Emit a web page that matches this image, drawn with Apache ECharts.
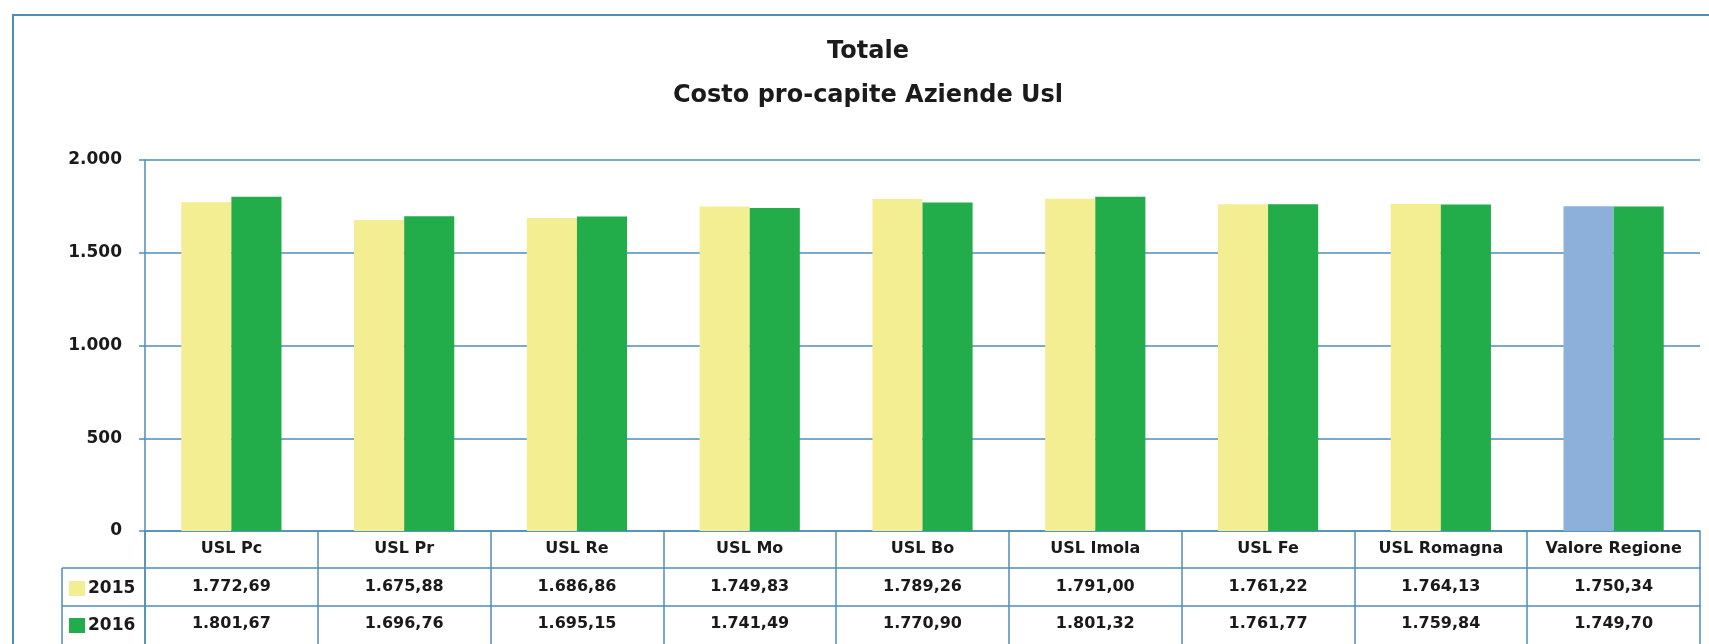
<!DOCTYPE html>
<html>
<head>
<meta charset="utf-8">
<script src="https://cdn.jsdelivr.net/npm/echarts@6/dist/echarts.min.js"></script>
<style>
html,body{margin:0;padding:0;background:#fff;}
#chart{width:1709px;height:644px;}
</style>
</head>
<body>
<div id="chart"></div>
<script>
const categories = ['USL Pc','USL Pr','USL Re','USL Mo','USL Bo','USL Imola','USL Fe','USL Romagna','Valore Regione'];
const values2015 = [1772.69,1675.88,1686.86,1749.83,1789.26,1791.00,1761.22,1764.13,1750.34];
const values2016 = [1801.67,1696.76,1695.15,1741.49,1770.90,1801.32,1761.77,1759.84,1749.70];
const seriesNames = ['2015','2016'];
const yTicks = [0,500,1000,1500,2000];
const titleLines = ['Totale','Costo pro-capite Aziende Usl'];

const FONT = 'DejaVu Sans';
const LINE = '#4f8db8';
const YELLOW = '#f3ee92', GREEN = '#22ad4a', BLUE = '#8db0db';

function fmt(v, dec){
  const s = v.toFixed(dec);
  const parts = s.split('.');
  const ip = parts[0].replace(/\B(?=(\d{3})+(?!\d))/g,'.');
  return parts.length>1 ? ip+','+parts[1] : ip;
}

// layout
const W=1709,H=644;
const gridLeft=145, gridRight=1700, gridTop=160, zeroY=531;
const rowY=[531,568,606,646];
const legendX=62;

const chart = echarts.init(document.getElementById('chart'),null,{renderer:'canvas'});
const lbl = {fontFamily:FONT,fontWeight:'bold',fontSize:16,color:'#1a1a1a'};

const option = {
  backgroundColor:'#fff',
  animation:false,
  title:[
    {text:titleLines[0],left:863,top:35,textAlign:'center',textStyle:{fontFamily:FONT,fontWeight:'bold',fontSize:24,color:'#1b1b1b'}},
    {text:titleLines[1],left:863,top:79,textAlign:'center',textStyle:{fontFamily:FONT,fontWeight:'bold',fontSize:24,color:'#1b1b1b'}}
  ],
  legend:{
    orient:'vertical',left:legendX+7,top:580,itemWidth:16,itemHeight:15,itemGap:20,
    icon:'rect',data:seriesNames,
    textStyle:Object.assign({},lbl,{fontSize:17,padding:[0,0,0,-2]}),padding:0
  },
  grid:{left:gridLeft,right:W-gridRight,top:gridTop,bottom:H-zeroY,containLabel:false},
  xAxis:[
    {type:'category',data:categories,position:'bottom',
     axisLine:{show:true,lineStyle:{color:LINE,width:1.5}},
     axisTick:{show:true,length:rowY[3]-rowY[0],lineStyle:{color:LINE,width:1.5}},
     axisLabel:Object.assign({margin:10,interval:0},lbl)},
    {type:'category',data:values2015.map(v=>fmt(v,2)),position:'bottom',offset:rowY[1]-rowY[0],
     axisLine:{show:true,lineStyle:{color:LINE,width:1.5}},axisTick:{show:false},
     axisLabel:Object.assign({margin:11,interval:0},lbl)},
    {type:'category',data:values2016.map(v=>fmt(v,2)),position:'bottom',offset:rowY[2]-rowY[0],
     axisLine:{show:true,lineStyle:{color:LINE,width:1.5}},axisTick:{show:false},
     axisLabel:Object.assign({margin:10,interval:0},lbl)},
    {type:'category',data:categories,position:'bottom',offset:rowY[3]-rowY[0],
     axisLine:{show:true,lineStyle:{color:LINE,width:1.5}},axisTick:{show:false},axisLabel:{show:false}}
  ],
  yAxis:{
    type:'value',min:yTicks[0],max:yTicks[yTicks.length-1],interval:500,
    axisLine:{show:true,lineStyle:{color:LINE,width:1.5}},
    axisTick:{show:true,length:6,lineStyle:{color:LINE,width:1.5}},
    splitLine:{show:true,lineStyle:{color:LINE,width:1.5}},
    axisLabel:Object.assign({margin:23,formatter:v=>fmt(v,0)},lbl,{fontSize:17})
  },
  series:[
    {name:seriesNames[0],type:'bar',xAxisIndex:0,barGap:'0%',barCategoryGap:'42%',
     itemStyle:{color:YELLOW},
     data:values2015.map((v,i)=> i===categories.length-1 ? {value:v,itemStyle:{color:BLUE}} : v)},
    {name:seriesNames[1],type:'bar',xAxisIndex:0,barGap:'0%',barCategoryGap:'42%',
     itemStyle:{color:GREEN},data:values2016}
  ],
  graphic:[
    {type:'rect',shape:{x:13,y:15,width:W,height:H+20},style:{fill:'none',stroke:LINE,lineWidth:2},silent:true},
    {type:'line',shape:{x1:gridLeft,y1:zeroY,x2:gridLeft,y2:rowY[3]},style:{stroke:LINE,lineWidth:1.5}},
    {type:'line',shape:{x1:legendX,y1:rowY[1],x2:gridLeft,y2:rowY[1]},style:{stroke:LINE,lineWidth:1.5}},
    {type:'line',shape:{x1:legendX,y1:rowY[2],x2:gridLeft,y2:rowY[2]},style:{stroke:LINE,lineWidth:1.5}},
    {type:'line',shape:{x1:legendX,y1:rowY[3],x2:gridLeft,y2:rowY[3]},style:{stroke:LINE,lineWidth:1.5}},
    {type:'line',shape:{x1:legendX,y1:rowY[1],x2:legendX,y2:rowY[3]},style:{stroke:LINE,lineWidth:1.5}}
  ]
};
chart.setOption(option);
</script>
</body>
</html>
